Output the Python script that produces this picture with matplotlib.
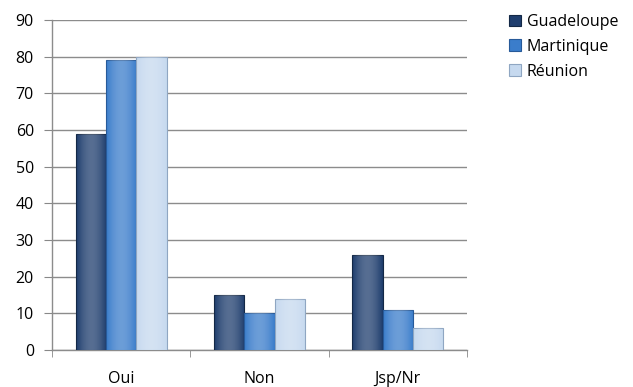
import matplotlib
matplotlib.use("Agg")
import matplotlib.pyplot as plt
import numpy as np

categories = ["Oui", "Non", "Jsp/Nr"]
series_names = ["Guadeloupe", "Martinique", "Réunion"]
guadeloupe = [59, 15, 26]
martinique = [79, 10, 11]
reunion = [80, 14, 6]
yticks = [0, 10, 20, 30, 40, 50, 60, 70, 80, 90]

colors = ["#1f3e6e", "#3b7dcb", "#c6d9ef"]
edge_colors = ["#132846", "#275a99", "#8fa6c2"]

plt.rcParams['font.family'] = ['Open Sans', 'DejaVu Sans']

fig = plt.figure(figsize=(6.33, 3.87), dpi=100)
ax = fig.add_axes([52/633, 37/387, (467-52)/633, (350-20)/387])

x = np.arange(len(categories))
width = 0.22
data = [guadeloupe, martinique, reunion]
handles = []
for i, (vals, name) in enumerate(zip(data, series_names)):
    bars = ax.bar(x + (i - 1) * width, vals, width, color=colors[i],
                  edgecolor=edge_colors[i], linewidth=0.8, label=name, zorder=3)
    for b in bars:
        bx, by = b.get_x(), b.get_y()
        bw, bh = b.get_width(), b.get_height()
        grad = np.linspace(0, 1, 50)
        alpha = 0.25 * np.sin(np.pi * grad)
        img = np.zeros((1, 50, 4))
        img[..., :3] = 1.0
        img[..., 3] = alpha
        im = ax.imshow(img, extent=[bx, bx + bw, by, by + bh], aspect='auto',
                       zorder=4, interpolation='bilinear')
        im.set_clip_path(b)
    handles.append(bars)

ax.set_xlim(-0.5, 2.5)
ax.set_ylim(0, 90)
ax.set_yticks(yticks)
ax.set_xticks(x)
ax.set_xticklabels(categories)
ax.set_xticks([-0.5, 0.5, 1.5, 2.5], minor=True)
ax.tick_params(axis='x', which='major', length=0, pad=15, labelsize=11.5)
ax.tick_params(axis='x', which='minor', length=5, color='#888888', direction='out')
ax.tick_params(axis='y', length=6, color='#888888', labelsize=11.5, pad=7)
ax.yaxis.grid(True, color='#8c8c8c', linewidth=1.0, zorder=0)
ax.set_axisbelow(True)
for s in ['top', 'right']:
    ax.spines[s].set_visible(False)
for s in ['left', 'bottom']:
    ax.spines[s].set_color('#8c8c8c')
    ax.spines[s].set_linewidth(1.0)

leg = fig.legend(handles=[h[0] for h in handles], labels=series_names,
                 loc='upper left', bbox_to_anchor=(509/633, 1 - 14/387),
                 frameon=False, fontsize=11.5, handlelength=0.75, handleheight=0.75,
                 handletextpad=0.35, labelspacing=0.55, borderpad=0, borderaxespad=0)

fig.savefig("out.png", dpi=100)
